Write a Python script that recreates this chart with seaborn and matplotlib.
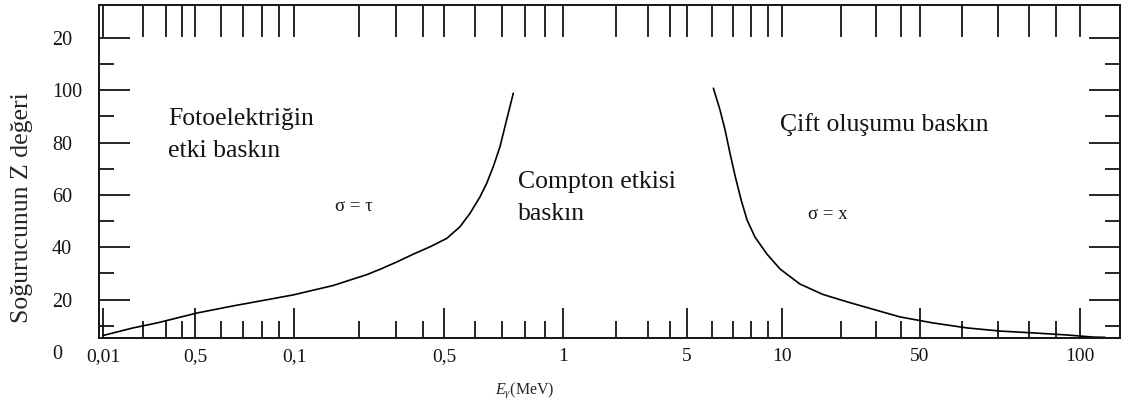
import numpy as np
import matplotlib
matplotlib.use("Agg")
import matplotlib.pyplot as plt
import seaborn as sns

# ---------------- data ----------------
photo_energy = [0.01, 0.0169, 0.0257, 0.0507, 0.0652, 0.0993, 0.152, 0.219,
                0.2516, 0.301, 0.3597, 0.4303, 0.5079, 0.549, 0.5817, 0.6166,
                0.6412, 0.666, 0.6925, 0.7199, 0.7486]
photo_z = [6.3, 9.2, 11.1, 14.9, 17.6, 21.8, 25.4, 29.6,
           31.6, 34.4, 37.4, 40.2, 43.4, 47.9, 53.0, 59.3,
           64.5, 70.8, 78.4, 88.7, 98.9]

pair_energy = [6.06, 6.36, 6.60, 6.84, 7.10, 7.42, 7.75, 8.21, 8.96, 9.86,
               12.3, 16.1, 21.3, 26.9, 39.6, 52.9, 61.3, 70.7, 81.6, 94.6,
               105.8, 111.4]
pair_z = [100.8, 92.5, 84.8, 76.0, 67.3, 58.1, 50.4, 43.9, 37.4, 31.7,
          26.0, 22.0, 19.2, 17.0, 13.4, 11.1, 9.2, 8.0, 7.3, 6.5,
          5.7, 5.6]

x_tick_values = [0.01, 0.05, 0.1, 0.5, 1, 5, 10, 50, 100]
x_tick_labels = ["0,01", "0,5", "0,1", "0,5", "1", "5", "10", "50", "100"]
x_minor_values = [d * m for d in (0.01, 0.1, 1, 10) for m in (2, 3, 4, 6, 7, 8, 9)]

y_tick_values = [20, 40, 60, 80, 100, 120]
y_tick_labels = ["20", "40", "60", "80", "100", "20"]
y_minor_values = [10, 30, 50, 70, 90, 110]

# ---------------- style ----------------
sns.set_style("ticks")
plt.rcParams["font.family"] = ["Liberation Serif", "DejaVu Serif"]
plt.rcParams["mathtext.fontset"] = "custom"
plt.rcParams["mathtext.rm"] = "Liberation Serif"
plt.rcParams["mathtext.it"] = "Liberation Serif:italic"
plt.rcParams["text.color"] = "#141414"
plt.rcParams["xtick.color"] = "#141414"
plt.rcParams["ytick.color"] = "#141414"
plt.rcParams["axes.edgecolor"] = "#141414"
plt.rcParams["axes.linewidth"] = 1.4

# irregular, hand-drawn energy axis: piecewise logarithmic scale
_kv = np.log10([1e-4, 0.01, 0.05, 0.1, 0.5, 1, 5, 10, 50, 100, 1e4])
_kp = np.array([-160.2, 103, 195, 294, 444, 563, 687, 782, 920, 1080, 2143])


def fwd(x):
    x = np.asarray(x, dtype=float)
    lx = np.log10(np.where(x > 0, x, 1e-300))
    return np.interp(lx, _kv, _kp)


def inv(p):
    p = np.asarray(p, dtype=float)
    return 10 ** np.interp(p, _kp, _kv)


W, H = 1137, 412
fig = plt.figure(figsize=(W / 100, H / 100), dpi=100)
ax = fig.add_axes([99 / W, 1 - 338 / H, (1120 - 99) / W, (338 - 5) / H])

sns.lineplot(x=photo_energy, y=photo_z, ax=ax, color="black", lw=1.2,
             sort=False, estimator=None)
sns.lineplot(x=pair_energy, y=pair_z, ax=ax, color="black", lw=1.2,
             sort=False, estimator=None)

ax.set_xscale("function", functions=(fwd, inv))
xlim = (0.00932, 118.9)
ax.set_xlim(*xlim)
ax.set_ylim(5.35, 132.6)

# bottom x ticks
ax.set_xticks(x_tick_values, labels=x_tick_labels)
ax.set_xticks(x_minor_values, minor=True)
ax.tick_params(axis="x", which="both", direction="in", bottom=True, top=False, width=1.3)
ax.tick_params(axis="x", which="major", length=21.6, labelsize=14, pad=7)
ax.tick_params(axis="x", which="minor", length=12.2)

# top x ticks (separate lengths) via twin axis
ax_top = ax.twiny()
ax_top.set_xscale("function", functions=(fwd, inv))
ax_top.set_xlim(*xlim)
ax_top.set_xticks(x_tick_values)
ax_top.set_xticks(x_minor_values, minor=True)
ax_top.tick_params(axis="x", which="both", direction="in", top=True, bottom=False,
                   labeltop=False, labelbottom=False, length=23, width=1.3)
for s in ax_top.spines.values():
    s.set_visible(False)

# y ticks
ax.set_yticks(y_tick_values, labels=y_tick_labels)
ax.set_yticks(y_minor_values, minor=True)
ax.tick_params(axis="y", which="both", direction="in", left=True, right=True, width=1.3)
ax.tick_params(axis="y", which="major", length=22, labelsize=14.5, pad=34)
ax.tick_params(axis="y", which="minor", length=11)
for t in ax.get_yticklabels():
    t.set_horizontalalignment("left")

ax.annotate("0", xy=(0, 0), xycoords=ax.get_yaxis_transform(), xytext=(-34, 0),
            textcoords="offset points", ha="left", va="center_baseline",
            fontsize=14.5, annotation_clip=False)

# axis labels
ax.set_ylabel("Soğurucunun Z değeri", fontsize=18.5, va="center")
ax.yaxis.set_label_coords((22 - 99) / 1021, (338 - 207.5) / 333)
ax.set_xlabel(r"$E_\gamma$(MeV)", fontsize=11.5, va="center")
ax.xaxis.set_label_coords((525 - 99) / 1021, (338 - 390) / 333)

# region annotations (va="baseline" anchors the last line's baseline)
ax.text(0.0676, 0.5435, "Fotoelektriğin\netki baskın", transform=ax.transAxes,
        fontsize=18.5, ha="left", va="baseline", linespacing=1.6)
ax.text(0.4104, 0.3544, "Compton etkisi\nbaskın", transform=ax.transAxes,
        fontsize=18.5, ha="left", va="baseline", linespacing=1.6)
ax.text(0.667, 0.6216, "Çift oluşumu baskın", transform=ax.transAxes,
        fontsize=18.5, ha="left", va="baseline")
ax.text(0.2311, 0.381, "σ = τ", transform=ax.transAxes,
        fontsize=13.5, ha="left", va="baseline")
ax.text(0.6944, 0.357, "σ = x", transform=ax.transAxes,
        fontsize=13.5, ha="left", va="baseline")

fig.savefig("out.png", dpi=100, facecolor="white")
